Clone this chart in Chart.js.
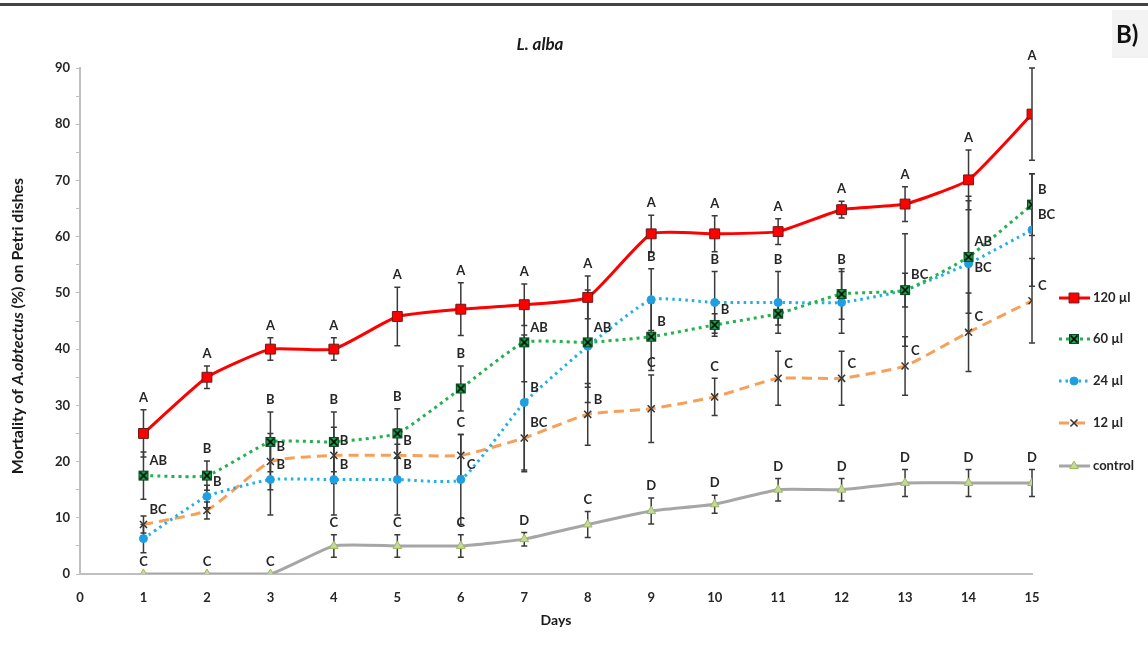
<!DOCTYPE html>
<html>
<head>
<meta charset="utf-8">
<script src="https://cdn.jsdelivr.net/npm/chart.js@4.4.1/dist/chart.umd.min.js"></script>
<style>
  html, body { margin: 0; padding: 0; background: #fff; }
  #wrap { width: 1148px; height: 648px; }
</style>
</head>
<body>
<div id="wrap"><canvas id="lineChart" width="1148" height="648"></canvas></div>
<script>
// Days on the x axis
const days = [1, 2, 3, 4, 5, 6, 7, 8, 9, 10, 11, 12, 13, 14, 15];
const yTicks = [0, 10, 20, 30, 40, 50, 60, 70, 80, 90];
const seriesNames = ['120 µl', '60 µl', '24 µl', '12 µl', 'control'];

// mean mortality (%)
const v120 = [25, 35, 40, 40, 45.8, 47.1, 47.9, 49.2, 60.5, 60.5, 60.9, 64.8, 65.8, 70.1, 81.8];
const v60 = [17.5, 17.5, 23.5, 23.5, 25, 33, 41.2, 41.2, 42.2, 44.3, 46.3, 49.8, 50.5, 56.4, 65.7];
const v24 = [6.3, 13.8, 16.8, 16.8, 16.8, 16.8, 30.5, 40.5, 48.8, 48.3, 48.3, 48.3, 50.5, 55.2, 61.2];
const v12 = [8.8, 11.3, 20, 21.1, 21.1, 21.1, 24.2, 28.4, 29.4, 31.5, 34.8, 34.8, 37, 43, 48.6];
const vControl = [0, 0, 0, 5, 5, 5, 6.2, 8.8, 11.2, 12.4, 15, 15, 16.2, 16.2, 16.2];

// error bars (+/-)
const e120 = [4.2, 2, 2, 2, 5.2, 4.7, 3.7, 3.8, 3.3, 3.2, 2.3, 1.5, 3.1, 5.3, 8.2];
const e60 = [4.2, 2.6, 5.3, 5.3, 4.4, 4, 7, 8, 6, 2, 2, 4.5, 10, 10, 5.5];
const e24 = [2.5, 2, 6.3, 6.3, 6.3, 8, 12, 10, 5.5, 5.5, 5.5, 5.5, 3, 12, 10];
const e12 = [1.5, 1.5, 5, 5, 4.7, 3.7, 6, 5.5, 6, 3.3, 4.8, 4.8, 5.2, 7, 7.5];
const eControl = [0, 0, 0, 2, 2, 2, 1.2, 2.3, 2.3, 1.6, 2, 2, 2.4, 2.4, 2.4];

// significance letters
const l120 = ['A', 'A', 'A', 'A', 'A', 'A', 'A', 'A', 'A', 'A', 'A', 'A', 'A', 'A', 'A'];
const l60 = ['AB', 'B', 'B', 'B', 'B', 'B', 'AB', 'AB', 'B', 'B', '', '', 'BC', 'AB', 'B'];
const l24 = ['', 'B', 'B', 'B', 'B', 'C', 'B', '', 'B', 'B', 'B', 'B', '', 'BC', 'BC'];
const l12 = ['BC', '', 'B', 'B', 'B', 'C', 'BC', 'B', 'C', 'C', 'C', 'C', 'C', 'C', 'C'];
const lControl = ['C', 'C', 'C', 'C', 'C', 'C', 'D', 'C', 'D', 'D', 'D', 'D', 'D', 'D', 'D'];

// where the letter sits: t = above the error bar, r = right of the point, b = right and below
const side120 = 'ttttttttttttttt'.split('');
const side60 = 'rtttttrrrrrrrrr'.split('');
const side24 = 'rrrrrrrrttttrbr'.split('');
const side12 = 'rrrrrtrrttrrrrr'.split('');
const sideControl = 'ttttttttttttttt'.split('');

const FONT = 'Lato, "Open Sans", sans-serif';

// green square with a black cross for the 60 µl series
function makeXSquare(size) {
  const c = document.createElement('canvas');
  c.width = size; c.height = size;
  const g = c.getContext('2d');
  g.fillStyle = '#17a44b';
  g.fillRect(1, 1, size - 2, size - 2);
  g.strokeStyle = '#0c4a22';
  g.lineWidth = 1;
  g.strokeRect(1.5, 1.5, size - 3, size - 3);
  g.beginPath();
  g.moveTo(2.5, 2.5); g.lineTo(size - 2.5, size - 2.5);
  g.moveTo(size - 2.5, 2.5); g.lineTo(2.5, size - 2.5);
  g.strokeStyle = '#000';
  g.lineWidth = 1.6;
  g.stroke();
  return c;
}
const xSquare = makeXSquare(12);

function pts(vals) {
  return days.map((d, i) => ({ x: d, y: vals[i] }));
}

const datasets = [
  {
    label: seriesNames[0], data: pts(v120), err: e120, letters: l120, sides: side120,
    borderColor: '#ff0000', borderWidth: 3, tension: 0.15,
    pointStyle: 'rect', pointRadius: 7, pointBackgroundColor: '#ff0000',
    pointBorderColor: '#6b1a1a', pointBorderWidth: 1
  },
  {
    label: seriesNames[1], data: pts(v60), err: e60, letters: l60, sides: side60,
    borderColor: '#23b24b', borderWidth: 3, borderDash: [3, 4], tension: 0.15,
    pointStyle: xSquare, pointRadius: 6
  },
  {
    label: seriesNames[2], data: pts(v24), err: e24, letters: l24, sides: side24,
    borderColor: '#1eb0ea', borderWidth: 3, borderDash: [2.5, 4], tension: 0.15,
    pointStyle: 'circle', pointRadius: 4, pointBackgroundColor: '#1f9fe0',
    pointBorderColor: '#1f9fe0', pointBorderWidth: 1
  },
  {
    label: seriesNames[3], data: pts(v12), err: e12, letters: l12, sides: side12,
    borderColor: '#f7a05a', borderWidth: 3, borderDash: [10, 6], tension: 0.15,
    pointStyle: 'crossRot', pointRadius: 5, pointBorderColor: '#333333',
    pointBorderWidth: 1.5
  },
  {
    label: seriesNames[4], data: pts(vControl), err: eControl, letters: lControl, sides: sideControl,
    borderColor: '#a6a6a6', borderWidth: 3, tension: 0.15,
    pointStyle: 'triangle', pointRadius: 5, pointBackgroundColor: '#c5d99d',
    pointBorderColor: '#9bbb59', pointBorderWidth: 1
  }
];

// error bars drawn under the lines
const errorBars = {
  id: 'errorBars',
  beforeDatasetsDraw(chart) {
    const { ctx, scales: { x, y } } = chart;
    ctx.save();
    ctx.strokeStyle = '#3a3a3a';
    ctx.lineWidth = 1.5;
    chart.data.datasets.forEach(ds => {
      ds.data.forEach((p, i) => {
        const e = ds.err[i];
        if (!e) return;
        const px = x.getPixelForValue(p.x);
        const top = y.getPixelForValue(p.y + e);
        const bot = y.getPixelForValue(p.y - e);
        ctx.beginPath();
        ctx.moveTo(px, top); ctx.lineTo(px, bot);
        ctx.moveTo(px - 3, top); ctx.lineTo(px + 3, top);
        ctx.moveTo(px - 3, bot); ctx.lineTo(px + 3, bot);
        ctx.stroke();
      });
    });
    ctx.restore();
  }
};

// letters, titles, legend and the panel mark
const extras = {
  id: 'extras',
  afterDatasetsDraw(chart) {
    const { ctx, chartArea, scales: { x, y } } = chart;
    ctx.save();
    ctx.fillStyle = '#262626';
    ctx.font = 'bold 13px ' + FONT;
    ctx.textBaseline = 'middle';
    chart.data.datasets.forEach(ds => {
      ds.data.forEach((p, i) => {
        const txt = ds.letters[i];
        if (!txt) return;
        const px = x.getPixelForValue(p.x);
        const side = ds.sides[i];
        if (side === 't') {
          ctx.textAlign = 'center';
          ctx.fillText(txt, px, y.getPixelForValue(p.y + ds.err[i]) - 12);
        } else {
          ctx.textAlign = 'left';
          ctx.fillText(txt, px + 6, y.getPixelForValue(p.y) + (side === 'b' ? 4 : -15));
        }
      });
    });

    // chart title
    ctx.textAlign = 'center';
    ctx.font = 'italic bold 17px ' + FONT;
    ctx.fillStyle = '#1a1a1a';
    ctx.fillText('L. alba', 540, 45);

    // x axis title
    ctx.font = 'bold 14px ' + FONT;
    ctx.fillText('Days', (chartArea.left + chartArea.right) / 2, 620);

    // y axis title with the italic species name
    const parts = [
      ['bold 16px ' + FONT, 'Mortality of '],
      ['italic bold 16px ' + FONT, 'A.obtectus'],
      ['bold 16px ' + FONT, ' (%) on Petri dishes']
    ];
    let total = 0;
    parts.forEach(p => { ctx.font = p[0]; total += ctx.measureText(p[1]).width; });
    ctx.translate(18, 326);
    ctx.rotate(-Math.PI / 2);
    ctx.textAlign = 'left';
    let cx = -total / 2;
    parts.forEach(p => { ctx.font = p[0]; ctx.fillText(p[1], cx, 0); cx += ctx.measureText(p[1]).width; });
    ctx.setTransform(1, 0, 0, 1, 0, 0);

    // legend: line sample with marker
    const legendY = [298, 339, 381, 423, 466];
    chart.data.datasets.forEach((ds, i) => {
      const ly = legendY[i];
      ctx.save();
      ctx.strokeStyle = ds.borderColor;
      ctx.lineWidth = 3;
      ctx.setLineDash(ds.borderDash || []);
      ctx.beginPath();
      ctx.moveTo(1059, ly); ctx.lineTo(1090, ly);
      ctx.stroke();
      ctx.restore();
      ctx.save();
      ctx.fillStyle = ds.pointBackgroundColor || '#000';
      ctx.strokeStyle = ds.pointBorderColor || '#000';
      ctx.lineWidth = ds.pointBorderWidth || 1;
      Chart.helpers.drawPoint(ctx, {
        pointStyle: ds.pointStyle, radius: ds.pointRadius, rotation: 0,
        borderWidth: ds.pointBorderWidth || 1
      }, 1074, ly);
      ctx.restore();
      ctx.fillStyle = '#262626';
      ctx.font = 'bold 13px ' + FONT;
      ctx.textAlign = 'left';
      ctx.fillText(ds.label, 1093, ly);
    });

    // panel label and top rule
    ctx.fillStyle = '#f3f3f3';
    ctx.fillRect(1112, 10, 36, 48);
    ctx.fillStyle = '#111';
    ctx.font = 'bold 24px ' + FONT;
    ctx.textAlign = 'left';
    ctx.fillText('B)', 1116, 35);
    ctx.fillStyle = '#444';
    ctx.fillRect(0, 3, 1148, 3);
    ctx.restore();
  }
};

let ctx = document.getElementById('lineChart').getContext('2d');
let lineChart = new Chart(ctx, {
  type: 'line',
  data: { datasets: datasets },
  options: {
    responsive: false,
    animation: false,
    layout: { padding: { top: 68, right: 116, left: 0, bottom: 0 } },
    plugins: {
      legend: { display: false },
      title: { display: false },
      tooltip: { enabled: false }
    },
    scales: {
      x: {
        type: 'linear', min: 0, max: 15,
        ticks: { stepSize: 1, color: '#262626', font: { family: FONT, size: 13, weight: 'bold' }, padding: 8 },
        grid: { display: false },
        border: { display: true, color: '#bfbfbf', width: 2 },
        afterFit(scale) { scale.height = 74; }
      },
      y: {
        min: 0, max: 90,
        afterBuildTicks(scale) {
          const t = [];
          yTicks.forEach(v => { t.push({ value: v }); if (v < 90) t.push({ value: v + 5 }); });
          scale.ticks = t;
        },
        ticks: {
          color: '#262626', font: { family: FONT, size: 13, weight: 'bold' }, padding: 6,
          callback: v => (yTicks.includes(v) ? v : '')
        },
        grid: { drawOnChartArea: false, drawTicks: true, tickLength: 4, color: '#bfbfbf' },
        border: { display: true, color: '#bfbfbf', width: 2 },
        afterFit(scale) { scale.width = 80; }
      }
    }
  },
  plugins: [errorBars, extras]
});
</script>
</body>
</html>
